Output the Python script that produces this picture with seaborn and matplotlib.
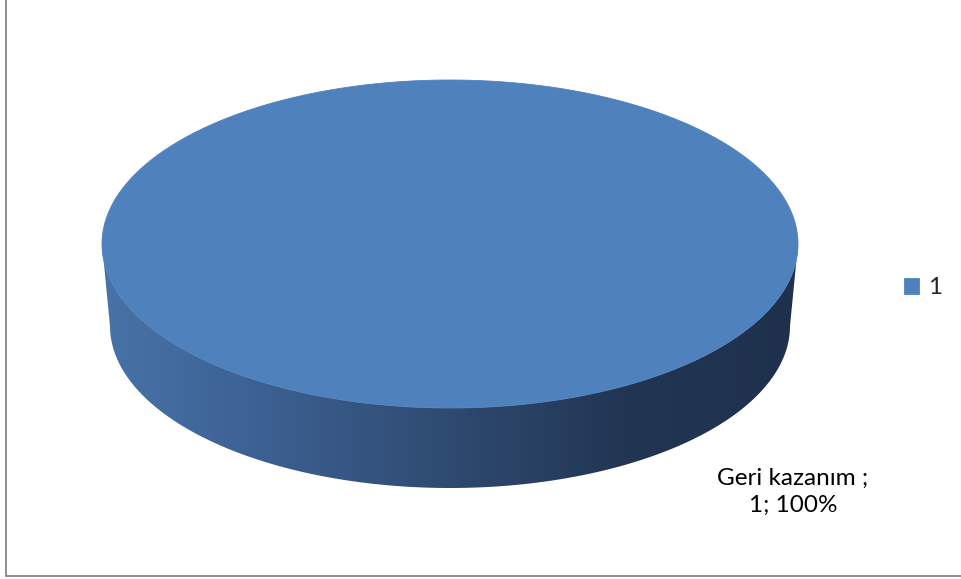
import numpy as np
import matplotlib
matplotlib.use("Agg")
import matplotlib.pyplot as plt
from matplotlib.patches import Polygon, Rectangle
from matplotlib.colors import LinearSegmentedColormap
import seaborn as sns

# Pie data
categories = ["Geri kazanım"]
values = [1]
legend_labels = ["1"]

sns.set_theme(style="white")
plt.rcParams["font.family"] = ["Lato", "DejaVu Sans"]
palette = sns.color_palette(["#4F81BD"])

W, H = 962, 579
fig = plt.figure(figsize=(W / 100, H / 100), dpi=100)
ax = fig.add_axes([0, 0, 1, 1])
ax.set_xlim(0, W)
ax.set_ylim(H, 0)
ax.axis("off")

# Chart-area frame
ax.add_patch(Rectangle((6.5, -10), 980, 585.5, fill=False,
                       edgecolor="#868686", linewidth=1.3, zorder=1))

# 3D pie geometry (pixel space, y grows downward)
cx, cy, a, b = 450, 244, 348, 164          # top face
bcx, bcy, ba, bb = 450, 326, 340, 162       # bottom rim

total = float(sum(values))
fracs = [v / total for v in values]
start = 90.0
theta_side = np.linspace(0, np.pi, 400)     # front half of the rim

# Side wall: gradient clipped to the band between top and bottom rims
top_front = np.column_stack([cx + a * np.cos(theta_side[::-1]),
                             cy + b * np.sin(theta_side[::-1])])
bot_front = np.column_stack([bcx + ba * np.cos(theta_side),
                             bcy + bb * np.sin(theta_side)])
side_poly = Polygon(np.vstack([top_front, bot_front]), closed=True,
                    facecolor="none", edgecolor="none")
ax.add_patch(side_poly)
side_cmap = LinearSegmentedColormap.from_list(
    "side",
    [(0.0, (72/255, 115/255, 168/255)),
     (0.23, (60/255, 96/255, 146/255)),
     (0.50, (46/255, 74/255, 112/255)),
     (0.75, (34/255, 54/255, 84/255)),
     (1.0, (30/255, 48/255, 76/255))])
grad = np.linspace(0, 1, 512).reshape(1, -1)
im = ax.imshow(grad, cmap=side_cmap, aspect="auto",
               extent=(cx - a, cx + a, bcy + bb + 2, cy - 2), zorder=2)
im.set_clip_path(side_poly)

# Top faces of the slices
handles = []
for frac, col, lab in zip(fracs, palette, legend_labels):
    t0 = np.deg2rad(start)
    t1 = np.deg2rad(start - 360.0 * frac)
    t = np.linspace(t0, t1, 600)
    pts = np.column_stack([cx + a * np.cos(t), cy - b * np.sin(t)])
    if frac < 1.0:
        pts = np.vstack([[cx, cy], pts])
    face = Polygon(pts, closed=True, facecolor=col, edgecolor=col,
                   linewidth=0.6, zorder=3, label=lab)
    ax.add_patch(face)
    handles.append(face)
    start -= 360.0 * frac

# Data label
for cat, v, frac in zip(categories, values, fracs):
    ax.text(793, 492, f"{cat} ;\n{v}; {frac:.0%}", ha="center", va="center",
            fontsize=17.5, color="black", linespacing=1.32, zorder=4)

ax.legend(handles=handles, labels=legend_labels, loc="center left",
          bbox_to_anchor=(904 / W, 1 - 288 / H), frameon=False,
          fontsize=17.5, handlelength=0.62, handleheight=0.62,
          handletextpad=0.35, borderpad=0, borderaxespad=0)

fig.savefig("out.png", dpi=100)
